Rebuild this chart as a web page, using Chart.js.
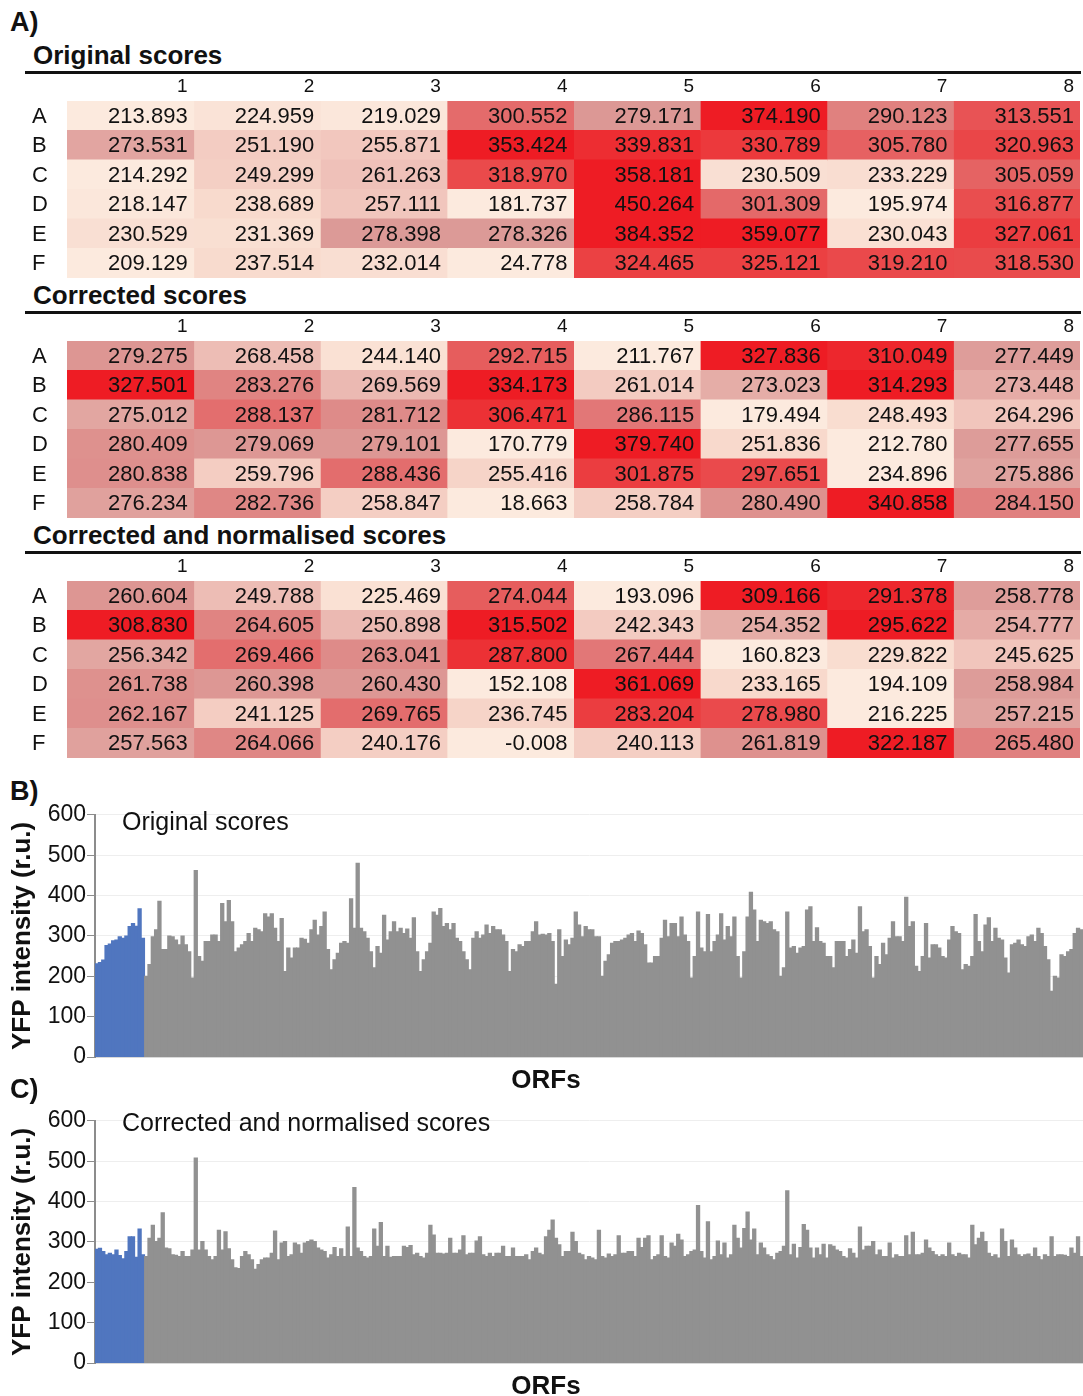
<!DOCTYPE html>
<html>
<head>
<meta charset="utf-8">
<script src="https://cdn.jsdelivr.net/npm/chart.js@4.4.0/dist/chart.umd.min.js"></script>
<style>
  body { margin:0; width:1083px; height:1396px; overflow:hidden; background:#fff; position:relative;
         font-family:"Liberation Sans", Arial, sans-serif; color:#111; }
  .abs { position:absolute; white-space:nowrap; }
  .panel { font-weight:bold; font-size:27px; line-height:27px; left:10px; }
  .ttl { font-weight:bold; font-size:26px; line-height:26px; left:33px; }
  .rule { position:absolute; left:25px; width:1056px; height:3px; background:#111; }
  .sub { font-size:25px; line-height:25px; left:122px; z-index:2; }
  .xt { font-weight:bold; font-size:26px; line-height:26px; left:446px; width:200px; text-align:center; z-index:2; }
  canvas { position:absolute; left:0; }
</style>
</head>
<body>
<div class="abs panel" style="top:9px">A)</div>
<div class="abs ttl" style="top:42px">Original scores</div>
<div class="rule" style="top:71px"></div>
<canvas id="tab1" width="1083" height="202" style="top:76px"></canvas>
<div class="abs ttl" style="top:282px">Corrected scores</div>
<div class="rule" style="top:311px"></div>
<canvas id="tab2" width="1083" height="202" style="top:316px"></canvas>
<div class="abs ttl" style="top:522px">Corrected and normalised scores</div>
<div class="rule" style="top:551px"></div>
<canvas id="tab3" width="1083" height="202" style="top:556px"></canvas>

<div class="abs panel" style="top:778px">B)</div>
<canvas id="barsB" width="1083" height="299" style="top:800px"></canvas>
<div class="abs sub" style="top:809px">Original scores</div>
<div class="abs xt" style="top:1066px">ORFs</div>

<div class="abs panel" style="top:1076px">C)</div>
<canvas id="barsC" width="1083" height="299" style="top:1106px"></canvas>
<div class="abs sub" style="top:1110px">Corrected and normalised scores</div>
<div class="abs xt" style="top:1372px">ORFs</div>

<script>
const FONT = '"Liberation Sans", Arial, sans-serif';

// plate layout
const rowLabels = ['A', 'B', 'C', 'D', 'E', 'F'];
const colLabels = ['1', '2', '3', '4', '5', '6', '7', '8'];

const originalScores = [
  [213.893, 224.959, 219.029, 300.552, 279.171, 374.190, 290.123, 313.551],
  [273.531, 251.190, 255.871, 353.424, 339.831, 330.789, 305.780, 320.963],
  [214.292, 249.299, 261.263, 318.970, 358.181, 230.509, 233.229, 305.059],
  [218.147, 238.689, 257.111, 181.737, 450.264, 301.309, 195.974, 316.877],
  [230.529, 231.369, 278.398, 278.326, 384.352, 359.077, 230.043, 327.061],
  [209.129, 237.514, 232.014, 24.778, 324.465, 325.121, 319.210, 318.530]
];
const correctedScores = [
  [279.275, 268.458, 244.140, 292.715, 211.767, 327.836, 310.049, 277.449],
  [327.501, 283.276, 269.569, 334.173, 261.014, 273.023, 314.293, 273.448],
  [275.012, 288.137, 281.712, 306.471, 286.115, 179.494, 248.493, 264.296],
  [280.409, 279.069, 279.101, 170.779, 379.740, 251.836, 212.780, 277.655],
  [280.838, 259.796, 288.436, 255.416, 301.875, 297.651, 234.896, 275.886],
  [276.234, 282.736, 258.847, 18.663, 258.784, 280.490, 340.858, 284.150]
];
const normalisedScores = [
  [260.604, 249.788, 225.469, 274.044, 193.096, 309.166, 291.378, 258.778],
  [308.830, 264.605, 250.898, 315.502, 242.343, 254.352, 295.622, 254.777],
  [256.342, 269.466, 263.041, 287.800, 267.444, 160.823, 229.822, 245.625],
  [261.738, 260.398, 260.430, 152.108, 361.069, 233.165, 194.109, 258.984],
  [262.167, 241.125, 269.765, 236.745, 283.204, 278.980, 216.225, 257.215],
  [257.563, 264.066, 240.176, -0.008, 240.113, 261.819, 322.187, 265.480]
];

const yTicks = [0, 100, 200, 300, 400, 500, 600];

// controls (blue) then ORFs (grey)
const controlsOriginal = [231, 234, 240, 276, 280, 288, 290, 298, 294, 300, 323, 331, 324, 367, 294];
const orfsOriginal = [
  200, 229, 298, 315, 386, 266, 266, 300, 298, 290,
  278, 300, 278, 261, 196, 462, 249, 237, 286, 286,
  302, 302, 286, 380, 335, 388, 335, 261, 270, 278,
  286, 306, 286, 319, 315, 310, 355, 347, 355, 319,
  286, 343, 212, 270, 245, 270, 270, 294, 292, 282,
  315, 339, 302, 323, 359, 266, 216, 241, 257, 282,
  286, 282, 392, 319, 480, 319, 310, 294, 261, 221,
  274, 257, 351, 290, 310, 335, 310, 319, 306, 317,
  294, 345, 261, 212, 241, 261, 282, 359, 351, 368,
  323, 331, 315, 331, 294, 286, 261, 241, 216, 294,
  310, 294, 302, 327, 306, 323, 315, 315, 302, 286,
  212, 266, 261, 278, 274, 286, 286, 310, 335, 302,
  304, 302, 306, 286, 180, 315, 249, 290, 278, 294,
  359, 327, 298, 323, 315,
  315, 298, 298, 200, 237, 253, 282, 286, 286, 290,
  294, 302, 306, 286, 312, 306, 278, 233, 233, 249,
  249, 294, 339, 298, 331, 331, 298, 347, 302, 286,
  196, 249, 359, 270, 261, 353, 261, 286, 302, 355,
  290, 323, 298, 347, 249, 196, 261, 347, 408, 364,
  286, 339, 335, 331, 335, 315, 310, 200, 221, 359,
  270, 274, 257, 270, 274, 364, 372, 286, 320, 286,
  282, 249, 249, 221, 286, 286, 286, 249, 266, 290,
  257, 372, 310, 315, 274, 196, 249, 229, 282, 253,
  294, 335, 298, 298, 286, 396, 323, 335, 225, 212,
  249, 331, 245, 278, 278, 270, 249, 245, 290, 323,
  310, 306, 216, 229, 225, 249, 353, 286, 261, 327,
  345, 286, 319, 294, 290, 245, 208, 278, 282, 290,
  278, 274, 298, 302, 286, 319, 306, 274, 241, 163,
  200, 196, 253, 249, 261, 266, 306, 319, 315
];
const controlsNormalised = [282, 284, 276, 268, 272, 268, 280, 266, 258, 276, 313, 313, 262, 332, 268];
const orfsNormalised = [
  264, 309, 341, 301, 309, 372, 285, 283, 268, 267,
  264, 276, 264, 264, 280, 508, 280, 301, 280, 264,
  256, 264, 329, 280, 325, 283, 256, 236, 234, 264,
  276, 268, 256, 232, 244, 256, 260, 260, 272, 327,
  256, 297, 301, 264, 268, 297, 293, 272, 297, 301,
  305, 301, 285, 280, 276, 260, 268, 286, 264, 283,
  264, 337, 264, 435, 285, 276, 264, 260, 264, 332,
  289, 348, 264, 289, 262, 264, 264, 264, 289, 286,
  291, 268, 272, 264, 260, 272, 341, 317, 272, 272,
  270, 272, 309, 272, 272, 280, 315, 268, 272, 272,
  302, 313, 268, 264, 272, 264, 272, 272, 289, 264,
  264, 285, 264, 264, 264, 268, 256, 276, 285, 272,
  268, 313, 329, 354, 309, 293, 264, 276, 276, 324,
  301, 272, 268, 256, 264,
  260, 256, 329, 264, 260, 270, 264, 268, 315, 272,
  272, 276, 276, 264, 309, 286, 309, 315, 256, 264,
  268, 315, 264, 260, 297, 289, 319, 305, 264, 268,
  276, 280, 390, 276, 260, 350, 256, 264, 302, 268,
  297, 260, 268, 341, 309, 285, 333, 374, 305, 332,
  268, 297, 285, 268, 264, 256, 272, 276, 289, 427,
  268, 294, 260, 286, 343, 329, 285, 260, 285, 268,
  294, 260, 293, 289, 280, 276, 264, 260, 283, 272,
  260, 337, 280, 289, 289, 301, 268, 280, 264, 264,
  297, 260, 268, 264, 264, 315, 268, 324, 268, 268,
  272, 305, 285, 276, 268, 264, 268, 264, 297, 268,
  264, 272, 268, 268, 260, 341, 293, 309, 324, 301,
  272, 264, 268, 260, 332, 301, 264, 305, 285, 268,
  264, 268, 270, 264, 285, 264, 256, 268, 264, 313,
  264, 268, 268, 267, 264, 285, 272, 313, 264
];

// colour scale like the spreadsheet: pale peach -> dusky pink (median) -> red
const lowStops = [[0, [252, 234, 222]], [0.4, [248, 217, 204]], [0.75, [239, 192, 184]], [1, [220, 154, 151]]];
const highStops = [[0, [220, 154, 151]], [0.3, [228, 106, 106]], [0.6, [235, 66, 68]], [1, [238, 28, 36]]];

function fromStops(stops, t) {
  t = Math.max(0, Math.min(1, t));
  for (let i = 1; i < stops.length; i++) {
    if (t <= stops[i][0]) {
      const a = stops[i - 1], b = stops[i];
      const f = (t - a[0]) / (b[0] - a[0]);
      const c = a[1].map((v, k) => Math.round(v + (b[1][k] - v) * f));
      return 'rgb(' + c.join(',') + ')';
    }
  }
  return 'rgb(' + stops[stops.length - 1][1].join(',') + ')';
}

function heatColours(table) {
  const s = table.flat().sort((a, b) => a - b);
  const n = s.length;
  const lo = s[Math.round(0.1 * (n - 1))];
  const hi = s[Math.round(0.9 * (n - 1))];
  const mid = (s[n / 2 - 1] + s[n / 2]) / 2;
  return v => v < mid ? fromStops(lowStops, (v - lo) / (mid - lo))
                      : fromStops(highStops, (v - mid) / (hi - mid));
}

// numbers in the cells, column headers and row letters
const cellText = {
  id: 'cellText',
  afterDatasetsDraw(chart) {
    const ctx = chart.ctx;
    const area = chart.chartArea;
    ctx.save();
    ctx.fillStyle = '#111';
    ctx.textBaseline = 'middle';
    ctx.textAlign = 'right';
    chart.data.datasets.forEach((ds, j) => {
      const bars = chart.getDatasetMeta(j).data;
      ctx.font = '19px ' + FONT;
      ctx.fillText(ds.label, bars[0].x - 6, area.top - 14);
      ctx.font = '22px ' + FONT;
      bars.forEach((bar, i) => {
        ctx.fillText(ds.scores[i].toFixed(3), bar.x - 6, bar.y + 1);
      });
    });
    ctx.textAlign = 'left';
    chart.getDatasetMeta(0).data.forEach((bar, i) => {
      ctx.fillText(chart.data.labels[i], 32, bar.y + 1);
    });
    ctx.restore();
  }
};

function drawTable(id, table) {
  const colour = heatColours(table);
  new Chart(document.getElementById(id), {
    type: 'bar',
    data: {
      labels: rowLabels,
      datasets: colLabels.map((c, j) => ({
        label: c,
        data: rowLabels.map(() => 1),
        scores: table.map(r => r[j]),
        backgroundColor: table.map(r => colour(r[j])),
        barPercentage: 1,
        categoryPercentage: 1,
        borderWidth: 0,
        inflateAmount: 0.5
      }))
    },
    options: {
      indexAxis: 'y',
      responsive: false,
      animation: false,
      layout: { padding: { left: 67, right: 3, top: 25, bottom: 0 } },
      plugins: { legend: { display: false }, tooltip: { enabled: false } },
      scales: {
        x: { display: false, stacked: true, min: 0, max: 8 },
        y: { display: false, stacked: true }
      }
    },
    plugins: [cellText]
  });
}

function drawBars(id, controls, orfs) {
  const values = controls.concat(orfs);
  const colours = values.map((v, i) => i < controls.length ? '#5076bf' : '#919191');
  new Chart(document.getElementById(id), {
    type: 'bar',
    data: {
      labels: values.map((v, i) => i + 1),
      datasets: [{
        data: values,
        backgroundColor: colours,
        barPercentage: 1,
        categoryPercentage: 1,
        borderWidth: 0,
        inflateAmount: 0.5
      }]
    },
    options: {
      responsive: false,
      animation: false,
      layout: { padding: { top: 12, right: 0, left: 0, bottom: 0 } },
      plugins: { legend: { display: false }, tooltip: { enabled: false } },
      scales: {
        x: {
          grid: { display: false },
          ticks: { display: false },
          border: { color: '#d9d9d9', width: 2 },
          afterFit: s => { s.height = 42; }
        },
        y: {
          min: 0, max: 600,
          afterBuildTicks: s => { s.ticks = yTicks.map(v => ({ value: v })); },
          grid: { color: '#eeeeee', tickColor: '#8c8c8c', tickLength: 8 },
          border: { color: '#8c8c8c', width: 2 },
          ticks: { padding: 1, color: '#111', font: { size: 23, family: FONT } },
          title: { display: true, text: 'YFP intensity (r.u.)', color: '#111',
                   font: { size: 26, weight: 'bold', family: FONT }, padding: { top: 7, bottom: 0 } },
          afterFit: s => { s.width = 95; }
        }
      }
    }
  });
}

drawTable('tab1', originalScores);
drawTable('tab2', correctedScores);
drawTable('tab3', normalisedScores);
drawBars('barsB', controlsOriginal, orfsOriginal);
drawBars('barsC', controlsNormalised, orfsNormalised);
</script>
</body>
</html>
